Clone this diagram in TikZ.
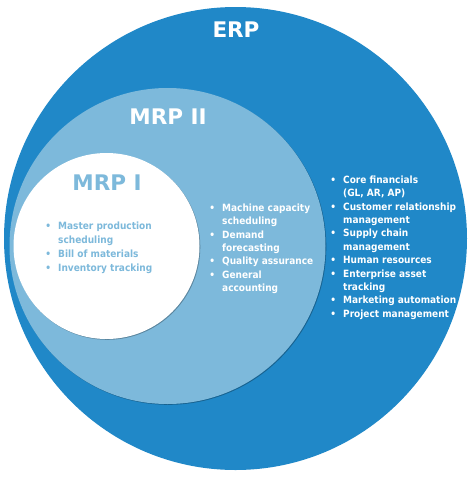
\documentclass[tikz,border=0pt]{standalone}
\usepackage{fontspec}
\setmainfont{DejaVu Sans}
\newfontfamily\condf{DejaVu Sans Condensed}
\usetikzlibrary{shadows}
\definecolor{erpblue}{RGB}{32,136,200}
\definecolor{mrplight}{RGB}{125,185,219}
\newcommand\bul{\llap{\textbullet\hspace{7pt}}}
\tikzset{
  ring/.style={circle, inner sep=0pt, draw=none},
  shad/.style={drop shadow={shadow xshift=0.8pt, shadow yshift=-0.8pt, opacity=0.28, fill=black}},
  title/.style={anchor=base, inner sep=0pt, font=\fontsize{21.5}{25}\selectfont\bfseries},
  items/.style={anchor=north west, inner sep=0pt, align=left, font=\condf\fontsize{10}{13.4}\selectfont\bfseries}
}
\begin{document}
\begin{tikzpicture}[x=1pt,y=-1pt]
\useasboundingbox (0,0) rectangle (471,480);
\fill[white] (0,0) rectangle (471,480);
\node[ring, fill=erpblue, minimum size=463pt] (erp) at (235.5,238.5) {};
\node[ring, fill=mrplight, minimum size=316pt, shad] (mrp2) at (167.5,246) {};
\node[ring, fill=white, minimum size=186pt, shad] (mrp1) at (106.5,246) {};
\node[title, text=white] (terp) at (236,37) {ERP};
\node[title, text=white] (tmrp2) at (168,124) {MRP II};
\node[title, text=mrplight] (tmrp1) at (107,190) {MRP I};
\node[items, text=mrplight, font=\condf\fontsize{10}{14.1}\selectfont\bfseries] (l1) at (58,221.5) {\bul Master production\\scheduling\\\bul Bill of materials\\\bul Inventory tracking};
\node[items, text=white] (l2) at (222,203.5) {\bul Machine capacity\\scheduling\\\bul Demand\\forecasting\\\bul Quality assurance\\\bul General\\accounting};
\node[items, text=white] (l3) at (343,175.5) {\bul Core financials\\(GL, AR, AP)\\\bul Customer relationship\\management\\\bul Supply chain\\management\\\bul Human resources\\\bul Enterprise asset\\tracking\\\bul Marketing automation\\\bul Project management};
\end{tikzpicture}
\end{document}
